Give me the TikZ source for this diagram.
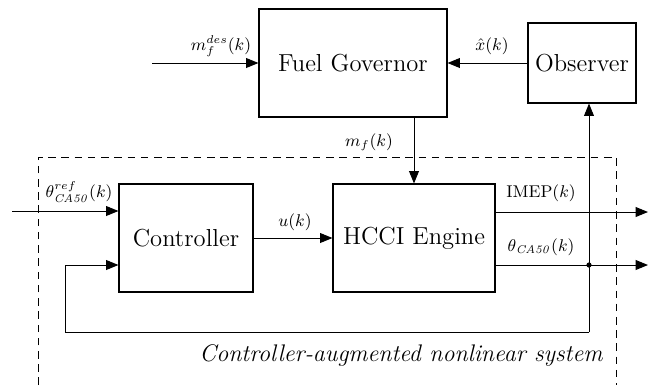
\documentclass[tikz,border=0pt]{standalone}
\usetikzlibrary{arrows.meta}
\begin{document}
\begin{tikzpicture}[x=0.529pt,y=-0.529pt,
  blk/.style={draw,line width=0.6pt,rectangle,inner sep=0pt,font=\fontsize{13}{15}\selectfont},
  conn/.style={line width=0.5pt,-{Triangle[length=6.5pt,width=5.2pt]}},
  wire/.style={line width=0.5pt},
  lbl/.style={font=\small,inner sep=0pt},
  frame/.style={line width=0.5pt,dash pattern=on 4pt off 3pt}]
\useasboundingbox (0,0) rectangle (648,385);
\node[blk,minimum width={188*0.529pt},minimum height={108*0.529pt}] (gov) at (353,63) {Fuel Governor};
\node[blk,minimum width={108*0.529pt},minimum height={80*0.529pt}] (obs) at (582,63) {Observer};
\node[blk,minimum width={134*0.529pt},minimum height={108*0.529pt}] (ctrl) at (186,238) {Controller};
\node[blk,minimum width={162*0.529pt},minimum height={108*0.529pt}] (hcci) at (414,238) {HCCI Engine};
\coordinate (mfin) at (152,63);
\coordinate (thin) at (12,211);
\coordinate (outI) at (648,212);
\coordinate (outT) at (648,265);
\coordinate (j) at (589,265);
\coordinate (fb1) at (589,332);
\coordinate (fb2) at (65,332);
\coordinate (f1) at (38,385);
\coordinate (f2) at (38,157);
\coordinate (f3) at (616,157);
\coordinate (f4) at (616,385);
% dashed frame
\draw[frame] (f1) -- (f2) -- (f3) -- (f4);
% connectors
\draw[conn] (mfin) -- (gov.west);
\draw[conn] (obs.west) -- (gov.east);
\draw[conn] (gov.south -| hcci.north) -- (hcci.north);
\draw[conn] (thin) -- (ctrl.west |- thin);
\draw[conn] (ctrl.east) -- (hcci.west);
\draw[conn] (hcci.east |- outI) -- (outI);
\draw[conn] (hcci.east |- outT) -- (outT);
\draw[conn] (fb1) -- (j |- obs.south);
\draw[conn] (fb1) -- (fb2) -- (fb2 |- j) -- (ctrl.west |- j);
\fill (j) circle (2.6);
% labels
\node[lbl] (l1) at (221,46) {$m_f^{des}(k)$};
\node[lbl] (l2) at (492,46) {$\hat{x}(k)$};
\node[lbl] (l3) at (369,142) {$m_f(k)$};
\node[lbl] (l4) at (79,192) {$\theta^{ref}_{\mathit{CA50}}(k)$};
\node[lbl] (l5) at (295,222) {$u(k)$};
\node[lbl] (l6) at (541,193) {IMEP$(k)$};
\node[lbl] (l7) at (541,247) {$\theta_{\mathit{CA50}}(k)$};
\node[font=\fontsize{12.7}{15}\selectfont\itshape] (l8) at (401,355) {Controller-augmented nonlinear system};
\end{tikzpicture}
\end{document}
